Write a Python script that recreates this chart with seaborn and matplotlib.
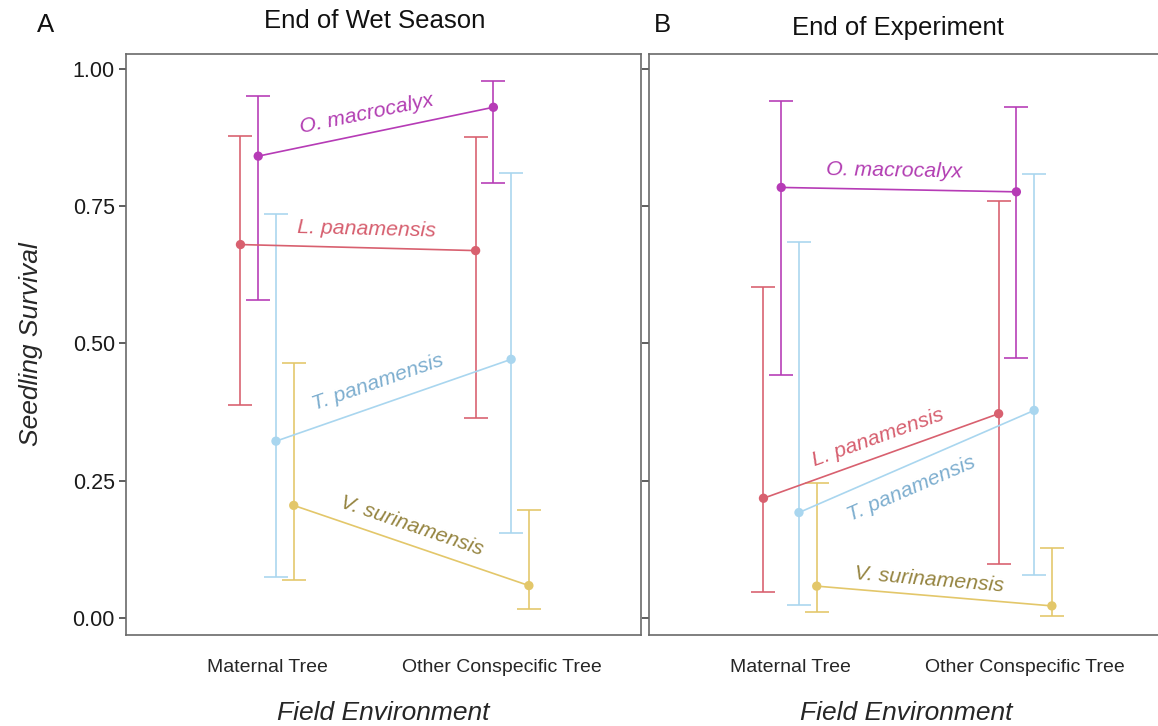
import numpy as np
import pandas as pd
import matplotlib
matplotlib.use("Agg")
import matplotlib.pyplot as plt
import seaborn as sns

# ---------------- data ----------------
environments = ["Maternal Tree", "Other Conspecific Tree"]
species = ["L. panamensis", "O. macrocalyx", "T. panamensis", "V. surinamensis"]

# End of Wet Season (panel A)
wet_mean = {
    "L. panamensis": [0.680, 0.669],
    "O. macrocalyx": [0.841, 0.930],
    "T. panamensis": [0.322, 0.471],
    "V. surinamensis": [0.205, 0.059],
}
wet_low = {
    "L. panamensis": [0.387, 0.365],
    "O. macrocalyx": [0.579, 0.793],
    "T. panamensis": [0.074, 0.155],
    "V. surinamensis": [0.070, 0.016],
}
wet_high = {
    "L. panamensis": [0.877, 0.876],
    "O. macrocalyx": [0.951, 0.978],
    "T. panamensis": [0.735, 0.810],
    "V. surinamensis": [0.465, 0.196],
}

# End of Experiment (panel B)
exp_mean = {
    "L. panamensis": [0.218, 0.372],
    "O. macrocalyx": [0.784, 0.776],
    "T. panamensis": [0.192, 0.378],
    "V. surinamensis": [0.058, 0.022],
}
exp_low = {
    "L. panamensis": [0.048, 0.099],
    "O. macrocalyx": [0.442, 0.473],
    "T. panamensis": [0.024, 0.079],
    "V. surinamensis": [0.010, 0.003],
}
exp_high = {
    "L. panamensis": [0.602, 0.760],
    "O. macrocalyx": [0.942, 0.930],
    "T. panamensis": [0.684, 0.808],
    "V. surinamensis": [0.245, 0.128],
}

yticks = [0.00, 0.25, 0.50, 0.75, 1.00]
ytick_labels = ["0.00", "0.25", "0.50", "0.75", "1.00"]

# ---------------- style ----------------
line_colors = {
    "L. panamensis": "#D8606F",
    "O. macrocalyx": "#B63BB6",
    "T. panamensis": "#A9D6EF",
    "V. surinamensis": "#E3C76A",
}
label_colors = {
    "L. panamensis": "#D65E6E",
    "O. macrocalyx": "#B23DB2",
    "T. panamensis": "#7DAECF",
    "V. surinamensis": "#958440",
}
dodge = {"L. panamensis": -1.5, "O. macrocalyx": -0.5,
         "T. panamensis": 0.5, "V. surinamensis": 1.5}
dodge_step = 0.0755

# label offsets (pixels, from line midpoint; +y is down on screen)
label_off_A = {"O. macrocalyx": (-9, -18), "L. panamensis": (8, -18),
               "T. panamensis": (-16, -18), "V. surinamensis": (0, -20)}
label_off_B = {"O. macrocalyx": (-5, -19), "L. panamensis": (-3, -18),
               "T. panamensis": (-5, 27), "V. surinamensis": (-5, -16)}

sns.set_theme(style="white")
plt.rcParams["font.family"] = ["Liberation Sans", "DejaVu Sans"]

W, H = 1158, 726
fig = plt.figure(figsize=(W / 100, H / 100), dpi=100)
fig.patch.set_facecolor("white")

def px_axes(left, right, top, bottom):
    return fig.add_axes([left / W, (H - bottom) / H, (right - left) / W, (bottom - top) / H])

axA = px_axes(126, 641, 54, 635)
axB = px_axes(649, 1164, 54, 635)

def build_df(mean, low, high):
    rows = []
    for sp in species:
        for i, env in enumerate(environments):
            rows.append(dict(species=sp, env=env, x=i + dodge[sp] * dodge_step,
                             y=mean[sp][i], lo=low[sp][i], hi=high[sp][i]))
    return pd.DataFrame(rows)

def draw_panel(ax, df, offsets):
    ax.set_xlim(-0.60, 1.59)
    ax.set_ylim(-0.031, 1.027)
    # error bars
    for sp in species:
        d = df[df.species == sp]
        ax.errorbar(d.x, d.y, yerr=[d.y - d.lo, d.hi - d.y], fmt="none",
                    ecolor=line_colors[sp], elinewidth=1.3, capsize=8.5,
                    capthick=1.3, alpha=0.9, zorder=2)
    sns.lineplot(data=df, x="x", y="y", hue="species", palette=line_colors,
                 hue_order=species, linewidth=1.2, legend=False, ax=ax,
                 estimator=None, sort=False, zorder=3)
    sns.scatterplot(data=df, x="x", y="y", hue="species", palette=line_colors,
                    hue_order=species, s=45, edgecolor="none", legend=False,
                    ax=ax, zorder=4)
    # species labels
    for sp in species:
        d = df[df.species == sp]
        p0 = ax.transData.transform((d.x.iloc[0], d.y.iloc[0]))
        p1 = ax.transData.transform((d.x.iloc[1], d.y.iloc[1]))
        ang = np.degrees(np.arctan2(p1[1] - p0[1], p1[0] - p0[0]))
        mid = ax.transData.inverted().transform((p0 + p1) / 2)
        dx, dy = offsets[sp]
        ax.annotate(sp, xy=mid, xytext=(dx, -dy), textcoords="offset pixels",
                    rotation=ang, rotation_mode="anchor", ha="center", va="center",
                    fontsize=15.3, style="italic", color=label_colors[sp], zorder=5)
    ax.set_xticks([0, 1])
    ax.set_xticklabels(environments, fontsize=14)
    ax.set_yticks(yticks)
    ax.set_xlabel("Field Environment", fontsize=19, style="italic", labelpad=18)
    ax.set_ylabel("")
    for s in ax.spines.values():
        s.set_color("#6a6a6a")
        s.set_linewidth(1.2)
    ax.tick_params(axis="x", length=0, pad=17)
    ax.tick_params(axis="y", length=5, width=1.1, color="#333333", direction="out", left=True)

draw_panel(axA, build_df(wet_mean, wet_low, wet_high), label_off_A)
draw_panel(axB, build_df(exp_mean, exp_low, exp_high), label_off_B)

axA.set_yticklabels(ytick_labels, fontsize=15.5, color="#1a1a1a")
axA.tick_params(axis="y", pad=3)
axB.set_yticklabels([])
axA.set_ylabel("Seedling Survival", fontsize=19, style="italic", labelpad=21)

fig.text(375 / W, 1 - 21 / H, "End of Wet Season", ha="center", va="center", fontsize=18.5, color="#111111")
fig.text(898 / W, 1 - 28 / H, "End of Experiment", ha="center", va="center", fontsize=18.5, color="#111111")
fig.text(46 / W, 1 - 25 / H, "A", ha="center", va="center", fontsize=18.5, color="#111111")
fig.text(662 / W, 1 - 25 / H, "B", ha="center", va="center", fontsize=18.5, color="#111111")

fig.savefig("out.png", dpi=100, facecolor="white")
